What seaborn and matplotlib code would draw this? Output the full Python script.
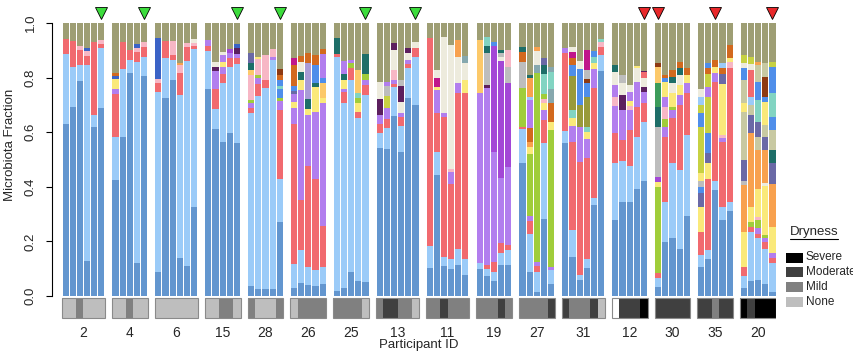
import numpy as np
import matplotlib.pyplot as plt
import seaborn as sns
from matplotlib.lines import Line2D
from matplotlib.patches import Rectangle

sns.set_theme(style='white')
plt.rcParams['font.family'] = ['Liberation Sans', 'DejaVu Sans']

# ----------------------------------------------------------------------------------
# DATA
# ----------------------------------------------------------------------------------
participants = ['2', '4', '6', '15', '28', '26', '25', '13',
                '11', '19', '27', '31', '12', '30', '35', '20']

# one string per sample: taxon key + cumulative top (bottom -> top), rest up to 1.0 is "other"
samples = {
    '2': ['A.63 B.886 C.94', 'A.693 B.84 C.935', 'A.789 B.846 C.90 E.916',
          'A.13 B.846 C.88 E.897 K.91', 'A.618 B.663 C.929', 'A.69 B.91 C.923 E.938'],
    '4': ['A.425 B.584 C.739 D.76 H.795 K.806 N.818', 'A.584 B.83 C.932', 'A.818 B.865 C.90',
          'A.12 B.856 C.895 E.91 K.923', 'A.806 B.874 C.913 E.932'],
    '6': ['A.089 B.748 C.779 E.795 K.946', 'A.724 B.87 C.934', 'A.79 B.864 C.883 E.934',
          'A.138 B.736 C.818 E.846 I.855', 'A.111 B.861 C.913 E.927', 'A.327 B.904 C.917 E.927 G.94'],
    '15': ['A.757 B.899 C.917 D.938', 'A.61 B.684 C.757 D.825 L.84 G.858',
           'A.565 B.779 C.813 D.84 H.858 D.883 G.895', 'A.598 B.84 C.87 D.891 V.903',
           'A.559 B.85 C.87 D.886 L.907 K.923'],
    '28': ['A.037 B.669 C.687 D.706 F.718 E.81 W.829 M.853 P.89',
           'A.027 B.733 C.777 D.80 F.81 E.867 H.877',
           'A.027 B.761 C.79 E.883', 'A.027 B.864 D.877 E.905',
           'A.27 B.427 C.681 D.713 F.727 S.76 R.77 S.79 N.81 X.83'],
    '26': ['A.028 B.116 C.63 D.69 H.71 D.74 P.75 S.77 N.846 Q.87',
           'A.049 B.168 C.352 D.755 H.79 M.82 G.858 N.879',
           'A.04 B.105 C.475 D.663 H.685 M.72 a.853 N.89',
           'A.037 B.095 C.43 D.675 H.767 M.78 S.846 N.884',
           'A.046 B.107 C.256 D.708 H.725 W.78 S.80 D.888 N.903'],
    '25': ['A.02 B.874 C.888 M.944', 'A.028 B.706 C.748 D.76 H.793 M.813 D.861',
           'A.087 B.793 C.834 F.852 D.866', 'A.055 B.651 C.675 H.706 F.724 R.742 W.828',
           'A.051 B.736 C.773 D.791 F.813 M.888'],
    '13': ['A.543 B.596 C.63 D.663 L.72 G.785', 'A.538 B.614 C.65 D.687 U.734 J.769 D.785',
           'A.659 B.764 C.778 D.79 E.828 G.901 L.928', 'A.529 B.623 C.656 D.672 G.712 L.769 J.791',
           'A.724 B.834 C.85 D.866 G.889 L.907', 'A.698 B.877 C.907 G.932'],
    '11': ['A.104 B.183 C.944', 'A.443 B.529 C.669 D.755 H.765 Q.797 G.828',
           'A.11 B.142 C.657 D.67 G.947', 'A.101 B.134 C.412 D.455 E.467 G.919',
           'A.114 B.171 C.742 D.779 G.874 I.936', 'A.077 B.134 C.742 H.791 G.852 g.879'],
    '19': ['A.101 B.122 D.745 W.938', 'A.073 B.101 C.114 D.761 L.774 J.889 M.916 R.948',
           'A.056 B.089 C.126 D.529 V.914 S.932', 'A.114 B.159 C.195 D.431 V.861 G.874 J.889 M.90',
           'A.114 B.168 C.187 D.474 V.781 J.84 E.90'],
    '27': ['A.489 B.61 C.62 F.761 J.858 N.895 M.913',
           'A.089 B.227 C.276 D.294 F.522 H.547 I.566 N.614 D.718 B.73 I.797 M.81',
           'A.016 B.089 C.11 D.126 F.816 g.846 G.896 I.913',
           'A.284 B.559 C.645 D.681 H.706 E.72 F.74 R.814 M.846 P.87',
           'A.046 B.095 D.107 F.608 H.639 N.706 g.76 R.822 g.84'],
    '31': ['A.562 B.606 C.891 D.907',
           'A.142 B.242 C.566 D.623 H.651 R.681 Z.806 S.846 N.87 Q.895 G.913',
           'A.059 B.077 C.492 D.62 Z.70 S.83 G.86',
           'A.104 B.134 C.504 D.577 H.601 R.62 Z.73 S.78 X.794 J.828 Q.901',
           'A.333 B.358 C.761 D.83 H.853 R.875 S.898', 'A.825 B.883 C.913 E.931 R.943'],
    '12': ['A.278 B.486 C.596 D.696 E.73 D.773 G.822 M.846',
           'A.346 B.493 C.571 D.681 L.736 G.779 J.81',
           'A.346 B.476 C.608 D.681 E.696 H.716 D.748 G.773',
           'A.392 B.581 C.693 D.785 G.834 H.843',
           'A.421 B.639 C.706 D.748 L.766 G.80 C.82 L.826'],
    '30': ['A.034 B.065 C.086 F.398 H.419 V.437 J.62 M.693 Y.78 W.84 X.853',
           'A.199 B.346 C.581 D.62 F.65 E.694 D.73 H.785 S.80 N.81',
           'A.211 B.486 C.651 D.68 F.694 H.742 G.78 M.803 N.828',
           'A.172 B.462 C.70 D.736 H.773 G.81 M.835 N.858',
           'A.294 B.59 C.742 D.779 H.81 N.835'],
    '35': ['A.107 B.15 C.236 H.327 P.376 S.40 J.42 H.45 U.62 S.67 U.70 B.73 G.76',
           'A.134 B.168 C.427 H.486 P.523 S.596 U.73 D.767 U.815 N.834 S.852',
           'A.39 B.42 C.785 D.816 H.84 N.865',
           'A.278 B.327 C.566 D.58 E.59 H.778 P.815 N.834 B.852',
           'A.31 B.346 C.834 E.858 H.872 N.919'],
    '20': ['A.028 B.073 C.107 H.236 I.407 J.42 P.498 T.675 H.706 T.79 S.835 G.853 U.883',
           'A.055 B.236 C.254 F.27 H.327 I.596 P.663 T.70 B.73 C.828 G.85 U.877',
           'A.059 B.211 C.229 D.249 F.278 E.289 H.391 I.535 T.583 P.638 R.718 S.785 T.846 I.858',
           'A.046 B.174 C.199 D.211 F.224 H.403 G.413 I.535 P.584 T.626 H.712 S.73 X.803 T.852',
           'A.016 B.12 C.138 D.156 H.254 I.412 P.486 M.534 T.608 S.657 R.744 S.84 U.858'],
}

# dryness per sample: n = none, mi = mild, mo = moderate, s = severe, na = missing
dryness = {
    '2': 'n n mi n n n', '4': 'n n mi n n', '6': 'n n n n n n', '15': 'n n mi mi n',
    '28': 'mi n n n mi', '26': 'n mi mi mi mi', '25': 'mi mi mi mi n', '13': 'mi mo mo mi mi n',
    '11': 'mi mi mo mi mi mi', '19': 'mi mi mi mo mi', '27': 'mi mi mi mi mo',
    '31': 'mo mi mi mi mo n', '12': 'na mo mo mo s', '30': 'mo mo mo mo mo',
    '35': 'mo mo mi mo mo', '20': 's mo s s s',
}

# (participant, sample number) flagged above the bars
green_marks = [('2', 6), ('4', 5), ('15', 5), ('28', 5), ('25', 5), ('13', 6)]
red_marks = [('12', 5), ('30', 1), ('35', 3), ('20', 5)]

# ----------------------------------------------------------------------------------
# STYLE
# ----------------------------------------------------------------------------------
taxa_colors = {
    'A': '#6396CF', 'B': '#9BCBF8', 'C': '#F16A6F', 'D': '#B27EEE', 'E': '#F7B7C5',
    'F': '#A0CD3A', 'G': '#EDEBDD', 'H': '#FAE97A', 'I': '#F8A14E', 'J': '#BDBDBD',
    'K': '#3B63C6', 'L': '#5C1F5E', 'M': '#1E6E68', 'N': '#D2691E', 'P': '#6A69A6',
    'Q': '#C0168B', 'R': '#82D4C2', 'S': '#4F8EEA', 'T': '#C8C9A2', 'U': '#C7D142',
    'V': '#A347D6', 'W': '#FCC96A', 'X': '#8E3A12', 'Y': '#3C9C5A', 'Z': '#999A3A',
    'g': '#86A8AE', 'a': '#A99BD6',
}
other_color = '#9E9E74'
dry_colors = {'s': '#000000', 'mo': '#404040', 'mi': '#808080', 'n': '#BEBEBE', 'na': '#FFFFFF'}
dry_labels = [('s', 'Severe'), ('mo', 'Moderate'), ('mi', 'Mild'), ('n', 'None')]

fig = plt.figure(figsize=(8.54, 3.52), dpi=100)
ax = fig.add_axes([0.0609, 0.089, 0.8478, 0.8457])

# ----------------------------------------------------------------------------------
# BARS
# ----------------------------------------------------------------------------------
slot = 0
centers = []
bar_x = {}
for pid in participants:
    start = slot
    for k, s in enumerate(samples[pid]):
        bottom = 0.0
        for tok in s.split():
            key, top = tok[0], float(tok[1:])
            ax.bar(slot, top - bottom, bottom=bottom, width=0.86,
                   color=taxa_colors[key], linewidth=0)
            bottom = top
        ax.bar(slot, 1.0 - bottom, bottom=bottom, width=0.86, color=other_color, linewidth=0)
        bar_x[(pid, k + 1)] = slot
        slot += 1
    n = slot - start
    # dryness strip under the group
    levels = dryness[pid].split()
    ax.bar(np.arange(start, slot), 0.073, bottom=-0.081, width=1.0,
           color=[dry_colors[l] for l in levels], linewidth=0)
    ax.add_patch(Rectangle((start - 0.5, -0.081), n, 0.073, fill=False,
                           edgecolor='#8a8a8a', linewidth=0.8))
    centers.append(start + (n - 1) / 2)
    slot += 1

for marks, col in [(green_marks, '#3CDC3C'), (red_marks, '#E8282A')]:
    xs = [bar_x[m] for m in marks]
    ax.plot(xs, [1.037] * len(xs), ls='none', marker='v', ms=8.5,
            mfc=col, mec='black', mew=0.6, clip_on=False)

# ----------------------------------------------------------------------------------
# AXES
# ----------------------------------------------------------------------------------
ax.set_xlim(-1.9, slot - 1.5)
ax.set_ylim(-0.09, 1.0)
for sp in ['top', 'right', 'bottom']:
    ax.spines[sp].set_visible(False)
ax.spines['left'].set_bounds(0, 1)
ax.spines['left'].set_color('black')
ax.spines['left'].set_linewidth(0.8)

ax.set_xticks(centers)
ax.set_xticklabels(participants, fontsize=10)
ax.tick_params(axis='x', length=0, pad=4)
ax.set_yticks(np.arange(0, 1.01, 0.2))
ax.set_yticklabels([f'{v:.1f}' for v in np.arange(0, 1.01, 0.2)], fontsize=9.5,
                   rotation=90, va='center')
ax.tick_params(axis='y', length=4, width=0.8, pad=7, left=True, color='black')
ax.grid(False)

fig.text(10 / 854, 1 - 145 / 352, 'Microbiota Fraction', rotation=90,
         ha='center', va='center', fontsize=9.5)
fig.text(419 / 854, 1 / 352, 'Participant ID', ha='center', va='bottom', fontsize=9.5)

# ----------------------------------------------------------------------------------
# LEGEND (Dryness)
# ----------------------------------------------------------------------------------
fig.text(790 / 854, 1 - 232 / 352, 'Dryness', ha='left', va='center', fontsize=9.5)
fig.add_artist(Line2D([790 / 854, 838 / 854], [1 - 239 / 352] * 2, color='black', lw=0.8))
for i, (code, label) in enumerate(dry_labels):
    yc = 257.5 + i * 14.7
    fig.add_artist(Rectangle((786 / 854, 1 - (yc + 5) / 352), 17 / 854, 10 / 352,
                             facecolor=dry_colors[code], edgecolor='none',
                             transform=fig.transFigure))
    fig.text(806 / 854, 1 - yc / 352, label, ha='left', va='center', fontsize=8.5)

plt.savefig('out.png', dpi=100)
